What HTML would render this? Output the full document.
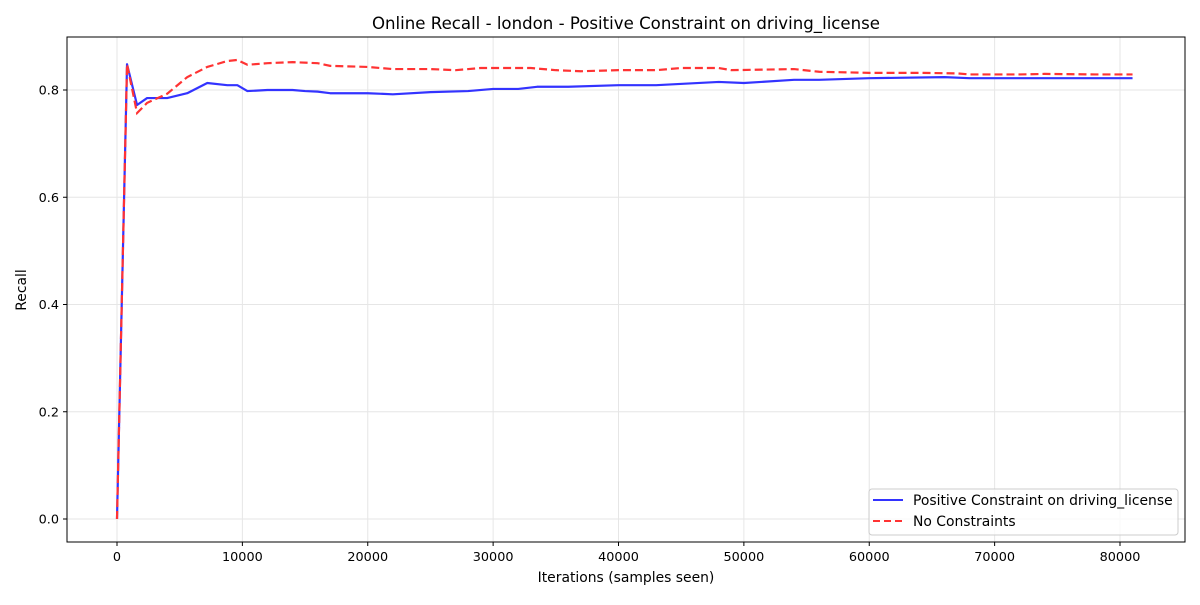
<!DOCTYPE html>
<html><head><meta charset="utf-8"><style>
body{margin:0;background:#fff;}
svg text{font-family:"DejaVu Sans","Liberation Sans",sans-serif;fill:#000;}
</style></head><body>
<svg id="chart" width="1200" height="600" xmlns="http://www.w3.org/2000/svg">
<rect width="1200" height="600" fill="#fff"/>
<g id="grid"></g>
<g id="ticks"></g>
<g id="lines"></g>
<rect x="67" y="37" width="1118" height="505" fill="none" stroke="#000" stroke-width="1"/>
<text x="626" y="29" font-size="16.6" text-anchor="middle">Online Recall - london - Positive Constraint on driving_license</text>
<text x="626" y="582" font-size="13.9" text-anchor="middle">Iterations (samples seen)</text>
<text transform="translate(26,290) rotate(-90)" font-size="13.9" text-anchor="middle">Recall</text>
<g>
<rect x="869" y="489" width="309" height="46" rx="3" fill="#fff" fill-opacity="0.8" stroke="#ccc"/>
<line x1="873" y1="500" x2="903" y2="500" stroke="#3333ff" stroke-width="2"/>
<text x="913" y="505" font-size="13.9">Positive Constraint on driving_license</text>
<line x1="873" y1="521" x2="903" y2="521" stroke="#ff3333" stroke-width="2" stroke-dasharray="7,4"/>
<text x="913" y="526" font-size="13.9">No Constraints</text>
</g>
</svg>
<script>
const xTicks=[0,10000,20000,30000,40000,50000,60000,70000,80000];
const yTicks=[0.0,0.2,0.4,0.6,0.8];
const blueX=[0,800,1600,2400,4000,5600,7200,8800,9600,10400,12000,14000,15000,16000,17000,20000,22000,25000,28000,30000,32000,33500,36000,40000,43000,48000,50000,54000,56000,60000,66000,68000,81000];
const blueY=[0,0.848,0.772,0.785,0.785,0.794,0.813,0.809,0.809,0.798,0.800,0.800,0.798,0.797,0.794,0.794,0.792,0.796,0.798,0.802,0.802,0.806,0.806,0.809,0.809,0.815,0.813,0.819,0.819,0.822,0.824,0.822,0.822];
const redX=[0,800,1600,2400,4000,5600,7200,8800,9600,10400,12000,14000,16000,17000,20000,22000,25000,27000,29000,32000,33000,35000,37000,40000,43000,45000,48000,49000,54000,56000,60000,64000,67000,68000,72000,74000,78000,81000];
const redY=[0,0.848,0.757,0.776,0.793,0.824,0.843,0.854,0.856,0.847,0.850,0.852,0.850,0.845,0.843,0.839,0.839,0.837,0.841,0.841,0.841,0.837,0.835,0.837,0.837,0.841,0.841,0.837,0.839,0.834,0.832,0.832,0.831,0.829,0.829,0.830,0.829,0.829];
const X=v=>117+v*(1120-117)/80000;
const Y=v=>519-v*(519-90)/0.8;
const NS="http://www.w3.org/2000/svg";
const grid=document.getElementById('grid'),ticks=document.getElementById('ticks'),lines=document.getElementById('lines');
function mk(tag,attrs,parent){const e=document.createElementNS(NS,tag);for(const k in attrs)e.setAttribute(k,attrs[k]);parent.appendChild(e);return e;}
xTicks.forEach(t=>{const x=X(t);
 const g=mk('line',{x1:x,x2:x,y1:37,y2:542,stroke:'#e6e6e6','stroke-width':1},grid);
 
 
 const tk=mk('line',{x1:x,x2:x,y1:542,y2:546,stroke:'#000'},ticks);
 
 
 const tx=mk('text',{x:x,y:561,'font-size':12.8,'text-anchor':'middle'},ticks);tx.textContent=t;
 
 });
yTicks.forEach(t=>{const y=Y(t);
 const g=mk('line',{x1:67,x2:1185,y1:y,y2:y,stroke:'#e6e6e6','stroke-width':1},grid);
 
 
 const tk=mk('line',{x1:63,x2:67,y1:y,y2:y,stroke:'#000'},ticks);
 
 
 const tx=mk('text',{x:59,y:y+4.5,'font-size':12.8,'text-anchor':'end'},ticks);tx.textContent=t.toFixed(1);
 
 });
const pb=mk('polyline',{points:blueX.map((x,i)=>X(x)+','+Y(blueY[i])).join(' '),fill:'none',stroke:'#3333ff','stroke-width':2.2,'stroke-linejoin':'round'},lines);


const pr=mk('polyline',{points:redX.map((x,i)=>X(x)+','+Y(redY[i])).join(' '),fill:'none',stroke:'#ff3333','stroke-width':2.2,'stroke-dasharray':'8,4'},lines);


</script>
</body></html>
